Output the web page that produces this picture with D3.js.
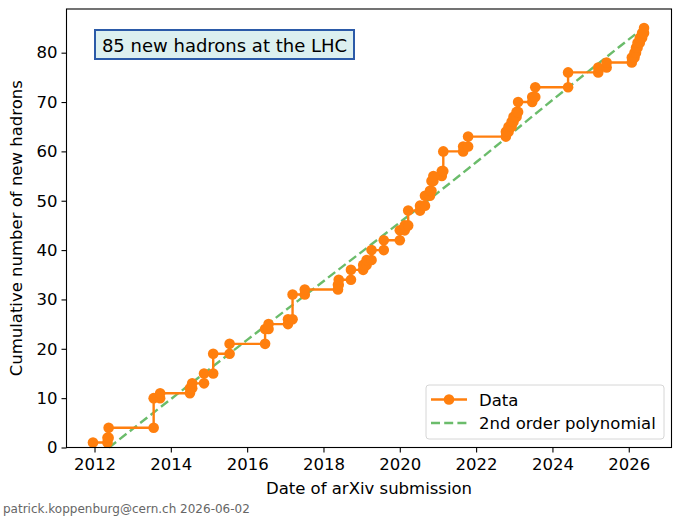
<!DOCTYPE html>
<html>
<head>
<meta charset="utf-8">
<script src="https://cdn.jsdelivr.net/npm/d3@7"></script>
<style>
  body { margin: 0; background: #fff; }
  text { font-family: "DejaVu Sans", sans-serif; }
</style>
</head>
<body>
<div class="canvas"></div>
<script>
// step data: arXiv date (decimal year) and cumulative count after that paper
var dates  = [2011.96, 2012.34, 2012.37, 2013.55, 2013.72, 2014.50, 2014.56, 2014.87, 2015.11, 2015.54,
              2016.47, 2016.56, 2017.07, 2017.19, 2017.51, 2018.38, 2018.40, 2018.72, 2019.04, 2019.13,
              2019.26, 2019.58, 2020.00, 2020.13, 2020.22, 2020.53, 2020.66, 2020.79, 2020.83, 2020.88,
              2021.10, 2021.14, 2021.66, 2021.79, 2022.78, 2022.85, 2022.93, 2022.98, 2023.06, 2023.10,
              2023.47, 2023.55, 2024.41, 2025.20, 2025.42, 2026.08, 2026.15, 2026.19, 2026.23, 2026.29,
              2026.35, 2026.40]
var counts = [1, 2, 4, 10, 11, 12, 13, 15, 19, 21,
              24, 25, 26, 31, 32, 33, 34, 36, 37, 38,
              40, 42, 44, 45, 48, 49, 51, 52, 54, 55,
              56, 60, 61, 63, 64, 65, 66, 67, 68, 70,
              71, 73, 76, 77, 78, 79, 80, 81, 82, 83,
              84, 85]

// 2nd order polynomial
var fitYears  = [2012.38, 2014, 2016, 2018, 2020, 2022, 2024, 2026.38]
var fitValues = [0, 9.8, 21.8, 33.7, 45.6, 57.8, 70.4, 85]

var xTicks = [2012, 2014, 2016, 2018, 2020, 2022, 2024, 2026]
var yTicks = [0, 10, 20, 30, 40, 50, 60, 70, 80]

var W = 690, H = 520
var m = {left: 66.5, right: 671.5, top: 9, bottom: 447.5}
var orange = '#ff7f0e'
var green = '#6bbc6b'
var fs = 16.5

var svg = d3.select(".canvas").append("svg").attr("width", W).attr("height", H)

var x = d3.scaleLinear().domain([2011.266, 2027.12]).range([m.left, m.right])
var y = d3.scaleLinear().domain([0, 88.85]).range([m.bottom, m.top])

var plot = svg.append('g')

// fit line
plot.append('path')
    .datum(fitYears.map((d, i) => [d, fitValues[i]]))
    .attr('d', d3.line().x(d => x(d[0])).y(d => y(d[1])).curve(d3.curveMonotoneX))
    .attr('fill', 'none')
    .attr('stroke', green)
    .attr('stroke-width', 2.4)
    .attr('stroke-dasharray', '9,4.2')

// step line
var pts = dates.map((d, i) => [d, counts[i]])
plot.append('path')
    .datum(pts)
    .attr('d', d3.line().x(d => x(d[0])).y(d => y(d[1])).curve(d3.curveStepAfter))
    .attr('fill', 'none')
    .attr('stroke', orange)
    .attr('stroke-width', 2.4)

// markers at both corners of every step
var corners = []
pts.forEach((p, i) => {
    if (i > 0) corners.push([p[0], counts[i - 1]])
    corners.push(p)
})
plot.selectAll('circle.pt')
    .data(corners)
    .enter().append('circle')
    .attr('class', 'pt')
    .attr('cx', d => x(d[0]))
    .attr('cy', d => y(d[1]))
    .attr('r', 5.3)
    .attr('fill', orange)

// frame
svg.append('rect')
    .attr('x', m.left).attr('y', m.top)
    .attr('width', m.right - m.left).attr('height', m.bottom - m.top)
    .attr('fill', 'none').attr('stroke', 'black').attr('stroke-width', 1.1)

// axes
var xAxis = svg.append('g')
    .attr('transform', 'translate(0,' + m.bottom + ')')
    .call(d3.axisBottom(x).tickValues(xTicks).tickFormat(d3.format('d')).tickSize(5).tickSizeOuter(0))
var yAxis = svg.append('g')
    .attr('transform', 'translate(' + m.left + ',0)')
    .call(d3.axisLeft(y).tickValues(yTicks).tickSize(5).tickSizeOuter(0))

;[xAxis, yAxis].forEach(a => {
    a.select('.domain').remove()
    a.selectAll('line').attr('stroke', 'black').attr('stroke-width', 1.1)
    a.selectAll('text').attr('font-size', fs).attr('fill', 'black')
        .attr('font-family', '"DejaVu Sans", sans-serif')
})
xAxis.selectAll('text').attr('dy', '0.9em')
yAxis.selectAll('text').attr('dx', '-1px')

// axis titles
svg.append('text')
    .attr('x', (m.left + m.right) / 2).attr('y', 494)
    .attr('text-anchor', 'middle').attr('font-size', fs)
    .text('Date of arXiv submission')
svg.append('text')
    .attr('transform', 'translate(22,' + ((m.top + m.bottom) / 2) + ') rotate(-90)')
    .attr('text-anchor', 'middle').attr('font-size', fs)
    .text('Cumulative number of new hadrons')

// title box
svg.append('rect')
    .attr('x', 95).attr('y', 30).attr('width', 259).attr('height', 29)
    .attr('fill', '#dcf0f0').attr('stroke', '#2b5aa8').attr('stroke-width', 2)
svg.append('text')
    .attr('x', 224.5).attr('y', 51.5).attr('text-anchor', 'middle')
    .attr('font-size', 18)
    .text('85 new hadrons at the LHC')

// legend
var lg = svg.append('g')
lg.append('rect')
    .attr('x', 426).attr('y', 385).attr('width', 238).attr('height', 54).attr('rx', 3)
    .attr('fill', 'white').attr('fill-opacity', 0.8).attr('stroke', '#d6d6d6')
lg.append('line').attr('x1', 431).attr('x2', 467).attr('y1', 399.5).attr('y2', 399.5)
    .attr('stroke', orange).attr('stroke-width', 2.4)
lg.append('circle').attr('cx', 449).attr('cy', 399.5).attr('r', 5.3).attr('fill', orange)
lg.append('text').attr('x', 479).attr('y', 405.5).attr('font-size', fs).text('Data')
lg.append('line').attr('x1', 431).attr('x2', 467).attr('y1', 423).attr('y2', 423)
    .attr('stroke', green).attr('stroke-width', 2.4).attr('stroke-dasharray', '9,4.2')
lg.append('text').attr('x', 479).attr('y', 429).attr('font-size', fs).text('2nd order polynomial')

// footer
svg.append('text')
    .attr('x', 3).attr('y', 513).attr('font-size', 12).attr('fill', '#666')
    .text('patrick.koppenburg@cern.ch 2026-06-02')
</script>
</body>
</html>
